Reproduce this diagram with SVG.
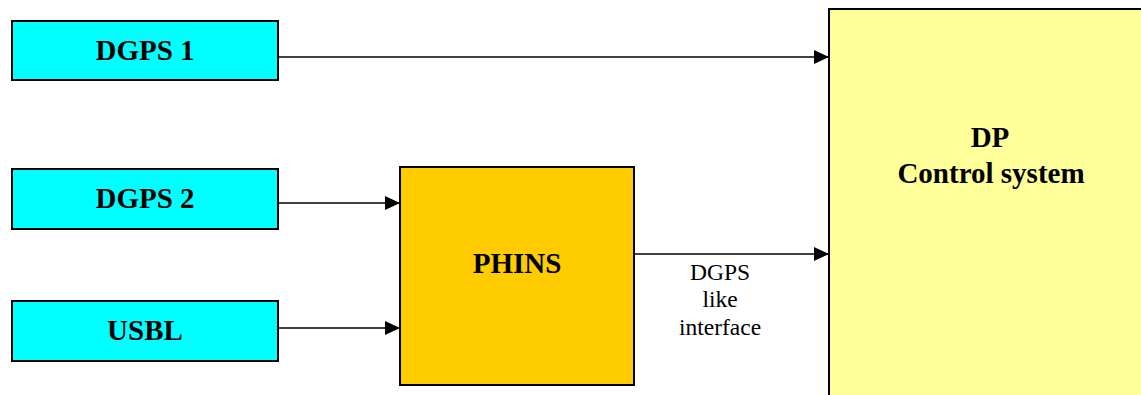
<svg xmlns="http://www.w3.org/2000/svg" width="1141" height="395" viewBox="0 0 1141 395">
<style>
.box{stroke:#000;stroke-width:2}
.cyan{fill:#00FFFF}
.phins{fill:#FFCC00}
.dp{fill:#FFFF99}
.big{font-family:"Liberation Serif","Times New Roman",serif;font-weight:bold;font-size:29px;fill:#000;text-anchor:middle}
.small{font-family:"Liberation Serif","Times New Roman",serif;font-size:23.5px;fill:#000;text-anchor:middle}
.conn{stroke:#000;stroke-width:1.6;fill:none}
</style>
<defs>
<marker id="arr" viewBox="0 0 15 14" refX="15" refY="7" markerWidth="15" markerHeight="14" markerUnits="userSpaceOnUse" orient="auto">
<path d="M0,0 L15,7 L0,14 Z" fill="#000"/>
</marker>
</defs>
<g id="dp">
<rect class="box dp" x="829" y="9" width="400" height="500"/>
<text class="big" x="990" y="147">DP</text>
<text class="big" x="991" y="183">Control system</text>
</g>
<g id="dgps1">
<rect class="box cyan" x="12" y="21" width="266" height="59"/>
<text class="big" x="145" y="60">DGPS 1</text>
</g>
<g id="dgps2">
<rect class="box cyan" x="12" y="169" width="266" height="60"/>
<text class="big" x="145" y="208">DGPS 2</text>
</g>
<g id="usbl">
<rect class="box cyan" x="12" y="301" width="266" height="60"/>
<text class="big" x="145" y="340">USBL</text>
</g>
<g id="phins">
<rect class="box phins" x="400" y="167" width="234" height="218"/>
<text class="big" x="517" y="273">PHINS</text>
</g>
<g id="connectors">
<line class="conn" x1="278" y1="57" x2="829" y2="57" marker-end="url(#arr)"/>
<line class="conn" x1="278" y1="203" x2="400" y2="203" marker-end="url(#arr)"/>
<line class="conn" x1="278" y1="328" x2="400" y2="328" marker-end="url(#arr)"/>
<line class="conn" x1="634" y1="254" x2="829" y2="254" marker-end="url(#arr)"/>
<text class="small" x="720" y="280">DGPS</text>
<text class="small" x="720" y="307">like</text>
<text class="small" x="720" y="335">interface</text>
</g>
</svg>
